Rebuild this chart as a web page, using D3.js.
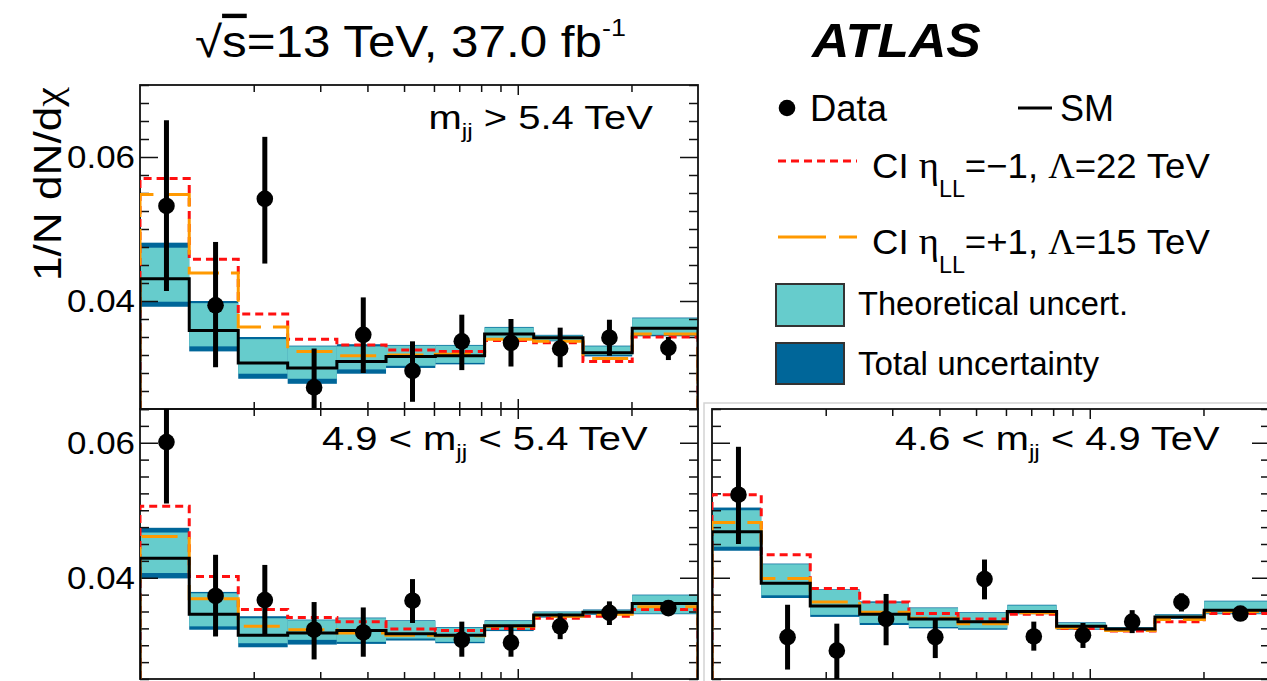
<!DOCTYPE html>
<html><head><meta charset="utf-8">
<script src="https://cdn.jsdelivr.net/npm/d3@7"></script>
<style>
html,body{margin:0;padding:0;background:#fff;}
svg{display:block;}
text{font-family:"Liberation Sans",Arial,Helvetica,sans-serif;fill:#000;}
</style></head><body>
<svg id="c" width="1267" height="681"></svg>
<script>
// ---------------- DATA ----------------
const chiEdges = [1, 1.35, 1.82, 2.46, 3.32, 4.48, 6.05, 8.17, 11.02, 14.88, 20.09, 30];
const xTickValues = [2, 3, 4, 5, 6, 7, 8, 9, 20];
const xMajorTickValues = [10];
const yTickValues = [0.04, 0.06];
const yTickLabels = ["0.04", "0.06"];

// m_jj > 5.4 TeV
const smHigh      = [0.0431, 0.0359, 0.0314, 0.0307, 0.0316, 0.0323, 0.0324, 0.0354, 0.0349, 0.0328, 0.0362];
const thUpHigh    = [0.0474, 0.0397, 0.0347, 0.0337, 0.0337, 0.0338, 0.0338, 0.0363, 0.0352, 0.0337, 0.0376];
const thDnHigh    = [0.0399, 0.0337, 0.0299, 0.0292, 0.0305, 0.0310, 0.0314, 0.0348, 0.0345, 0.0325, 0.0353];
const totUpHigh   = [0.0481, 0.0400, 0.0350, 0.0338, 0.0340, 0.0339, 0.0339, 0.0364, 0.0353, 0.0338, 0.0377];
const totDnHigh   = [0.0392, 0.0330, 0.0292, 0.0285, 0.0299, 0.0307, 0.0312, 0.0346, 0.0344, 0.0323, 0.0351];
const ciMinusHigh = [0.0570, 0.0458, 0.0382, 0.0347, 0.0339, 0.0332, 0.0330, 0.0345, 0.0342, 0.0316, 0.0350];
const ciPlusHigh  = [0.0548, 0.0439, 0.0364, 0.0330, 0.0324, 0.0325, 0.0326, 0.0347, 0.0344, 0.0320, 0.0354];
const dataHigh    = [0.0532, 0.0394, 0.0542, 0.0280, 0.0353, 0.0303, 0.0344, 0.0342, 0.0334, 0.0349, 0.0335];
const dataHiHigh  = [0.0651, 0.0482, 0.0628, 0.0334, 0.0405, 0.0344, 0.0381, 0.0375, 0.0363, 0.0374, 0.0350];
const dataLoHigh  = [0.0414, 0.0308, 0.0452, 0.0226, 0.0300, 0.0260, 0.0304, 0.0309, 0.0308, 0.0324, 0.0318];

// 4.9 < m_jj < 5.4 TeV
const smMid       = [0.0429, 0.0346, 0.0315, 0.0318, 0.0322, 0.0317, 0.0315, 0.0329, 0.0345, 0.0349, 0.0362];
const thUpMid     = [0.0467, 0.0377, 0.0340, 0.0337, 0.0340, 0.0336, 0.0326, 0.0336, 0.0349, 0.0352, 0.0374];
const thDnMid     = [0.0407, 0.0328, 0.0303, 0.0308, 0.0305, 0.0310, 0.0305, 0.0323, 0.0342, 0.0346, 0.0347];
const totUpMid    = [0.0474, 0.0379, 0.0343, 0.0338, 0.0341, 0.0337, 0.0327, 0.0337, 0.0350, 0.0353, 0.0375];
const totDnMid    = [0.0399, 0.0323, 0.0297, 0.0301, 0.0302, 0.0307, 0.0303, 0.0321, 0.0341, 0.0345, 0.0346];
const ciMinusMid  = [0.0506, 0.0402, 0.0353, 0.0341, 0.0335, 0.0324, 0.0322, 0.0325, 0.0340, 0.0343, 0.0353];
const ciPlusMid   = [0.0461, 0.0369, 0.0328, 0.0323, 0.0318, 0.0315, 0.0314, 0.0328, 0.0343, 0.0346, 0.0357];
const dataMid     = [0.0601, 0.0373, 0.0367, 0.0323, 0.0319, 0.0366, 0.0308, 0.0304, 0.0328, 0.0348, 0.0355];
const dataHiMid   = [0.0690, 0.0434, 0.0419, 0.0364, 0.0356, 0.0398, 0.0335, 0.0329, 0.0347, 0.0365, 0.0362];
const dataLoMid   = [0.0510, 0.0313, 0.0315, 0.0279, 0.0283, 0.0333, 0.0283, 0.0283, 0.0309, 0.0330, 0.0349];

// 4.6 < m_jj < 4.9 TeV
const smLow       = [0.0468, 0.0392, 0.0358, 0.0346, 0.0339, 0.0335, 0.0350, 0.0328, 0.0324, 0.0342, 0.0352];
const thUpLow     = [0.0500, 0.0420, 0.0382, 0.0363, 0.0355, 0.0348, 0.0359, 0.0333, 0.0326, 0.0345, 0.0365];
const thDnLow     = [0.0446, 0.0374, 0.0345, 0.0333, 0.0327, 0.0325, 0.0347, 0.0324, 0.0322, 0.0340, 0.0347];
const totUpLow    = [0.0504, 0.0421, 0.0383, 0.0365, 0.0356, 0.0349, 0.0360, 0.0334, 0.0327, 0.0346, 0.0366];
const totDnLow    = [0.0440, 0.0370, 0.0342, 0.0330, 0.0325, 0.0323, 0.0346, 0.0323, 0.0321, 0.0339, 0.0346];
const ciMinusLow  = [0.0523, 0.0434, 0.0384, 0.0364, 0.0347, 0.0339, 0.0346, 0.0325, 0.0321, 0.0335, 0.0347];
const ciPlusLow   = [0.0482, 0.0399, 0.0364, 0.0349, 0.0340, 0.0332, 0.0348, 0.0326, 0.0322, 0.0338, 0.0350];
const dataLow     = [0.0523, 0.0312, 0.0292, 0.0339, 0.0312, 0.0398, 0.0313, 0.0315, 0.0335, 0.0364, 0.0347];
const dataHiLow   = [0.0594, 0.0360, 0.0332, 0.0376, 0.0340, 0.0427, 0.0335, 0.0333, 0.0352, 0.0377, 0.0355];
const dataLoLow   = [0.0450, 0.0264, 0.0245, 0.0300, 0.0281, 0.0368, 0.0292, 0.0296, 0.0318, 0.0350, 0.0340];

// ---------------- STYLE / LAYOUT ----------------
const C_TH = "#66cccc", C_TOT = "#006699", C_RED = "#ff1010", C_ORA = "#ff9900";
const PW = 558;
const svg = d3.select("#c");
const SERIF = '"Liberation Serif","DejaVu Serif",serif';

function addText(parent, o) {
  const t = parent.append("text")
    .attr("text-anchor", o.anchor || "start")
    .style("font-size", o.size + "px")
    .style("font-weight", o.weight || "normal")
    .style("font-style", o.italic ? "italic" : "normal");
  o.parts.forEach(p => {
    const ts = t.append("tspan").text(p.t);
    if (p.size) ts.style("font-size", p.size + "px");
    if (p.dy) ts.attr("dy", p.dy);
    if (p.deco) ts.style("text-decoration", p.deco);
    if (p.family) ts.style("font-family", p.family);
  });
  let sx = 1;
  if (o.width) {
    const w = t.node().getBBox().width;
    if (w > 0) sx = o.width / w;
  }
  const rot = o.rotate ? ` rotate(${o.rotate})` : "";
  t.attr("transform", `translate(${o.x},${o.y})${rot} scale(${sx},1)`);
  return t;
}

const panels = [
  { x0: 140, y0: 85, y1: 409, ydom: [0.025, 0.07], yLabels: true,
    sm: smHigh, thUp: thUpHigh, thDn: thDnHigh, totUp: totUpHigh, totDn: totDnHigh,
    ciM: ciMinusHigh, ciP: ciPlusHigh, d: dataHigh, dHi: dataHiHigh, dLo: dataLoHigh,
    label: { anchor: "end", x: 653, y: 128.5, width: 225,
      parts: [{ t: "m" }, { t: "jj", size: 21, dy: 9 }, { t: " > 5.4 TeV", dy: -9 }] } },
  { x0: 140, y0: 409, y1: 679, ydom: [0.025, 0.065], yLabels: true,
    sm: smMid, thUp: thUpMid, thDn: thDnMid, totUp: totUpMid, totDn: totDnMid,
    ciM: ciMinusMid, ciP: ciPlusMid, d: dataMid, dHi: dataHiMid, dLo: dataLoMid,
    label: { anchor: "start", x: 322, y: 450, width: 326,
      parts: [{ t: "4.9 < m" }, { t: "jj", size: 21, dy: 9 }, { t: " < 5.4 TeV", dy: -9 }] } },
  { x0: 712, y0: 409, y1: 679, ydom: [0.025, 0.065], yLabels: false,
    sm: smLow, thUp: thUpLow, thDn: thDnLow, totUp: totUpLow, totDn: totDnLow,
    ciM: ciMinusLow, ciP: ciPlusLow, d: dataLow, dHi: dataHiLow, dLo: dataLoLow,
    label: { anchor: "start", x: 895, y: 450, width: 325,
      parts: [{ t: "4.6 < m" }, { t: "jj", size: 21, dy: 9 }, { t: " < 4.9 TeV", dy: -9 }] } }
];

// light pad border around the lower-right pad
svg.append("path").attr("d", "M704,681 V403 H1267").attr("fill", "none")
  .attr("stroke", "#d4d4d4").attr("stroke-width", 1.5);

panels.forEach((p, pi) => {
  const x = d3.scaleLog().domain([1, 30]).range([p.x0, p.x0 + PW]);
  const y = d3.scaleLinear().domain(p.ydom).range([p.y1, p.y0]);
  const n = p.sm.length;
  const bins = d3.range(n).map(i => ({ lo: chiEdges[i], hi: chiEdges[i + 1], i }));

  const clipId = "clip" + pi;
  svg.append("clipPath").attr("id", clipId).append("rect")
    .attr("x", p.x0).attr("y", p.y0).attr("width", PW).attr("height", p.y1 - p.y0);
  const g = svg.append("g").attr("clip-path", `url(#${clipId})`);

  g.selectAll("rect.tot").data(bins).join("rect").attr("class", "tot")
    .attr("x", b => x(b.lo)).attr("width", b => x(b.hi) - x(b.lo))
    .attr("y", b => y(p.totUp[b.i])).attr("height", b => y(p.totDn[b.i]) - y(p.totUp[b.i]))
    .attr("fill", C_TOT);
  g.selectAll("rect.th").data(bins).join("rect").attr("class", "th")
    .attr("x", b => x(b.lo)).attr("width", b => x(b.hi) - x(b.lo))
    .attr("y", b => y(p.thUp[b.i])).attr("height", b => y(p.thDn[b.i]) - y(p.thUp[b.i]))
    .attr("fill", C_TH);

  const fr = svg.append("g");
  fr.append("rect").attr("x", p.x0).attr("y", p.y0).attr("width", PW).attr("height", p.y1 - p.y0)
    .attr("fill", "none").attr("stroke", "#111").attr("stroke-width", 1.8);
  const minorY = d3.range(p.ydom[0], p.ydom[1] + 1e-9, 0.0025).filter(v => !yTickValues.some(t => Math.abs(t - v) < 1e-6));
  const axes = [
    [d3.axisLeft(y).tickValues(minorY).tickSize(-9), `translate(${p.x0},0)`],
    [d3.axisLeft(y).tickValues(yTickValues).tickSize(-18), `translate(${p.x0},0)`],
    [d3.axisRight(y).tickValues(minorY).tickSize(-9), `translate(${p.x0 + PW},0)`],
    [d3.axisRight(y).tickValues(yTickValues).tickSize(-18), `translate(${p.x0 + PW},0)`],
    [d3.axisBottom(x).tickValues(xTickValues).tickSize(-7), `translate(0,${p.y1})`],
    [d3.axisBottom(x).tickValues(xMajorTickValues).tickSize(-10), `translate(0,${p.y1})`],
    [d3.axisTop(x).tickValues(xTickValues).tickSize(-7), `translate(0,${p.y0})`],
    [d3.axisTop(x).tickValues(xMajorTickValues).tickSize(-10), `translate(0,${p.y0})`]
  ];
  axes.forEach(([ax, tr]) => {
    fr.append("g").attr("transform", tr).call(ax.tickFormat(""))
      .call(a => a.select(".domain").remove())
      .call(a => a.selectAll(".tick line").attr("stroke", "#111").attr("stroke-width", 1.5));
  });

  if (p.yLabels) {
    yTickValues.forEach((v, k) => {
      addText(svg, { anchor: "end", x: 135, y: y(v) + 11, size: 31, width: 68, parts: [{ t: yTickLabels[k] }] });
    });
  }

  const stepPts = vals => [[chiEdges[0], p.ydom[0]]]
    .concat(chiEdges.map((e, i) => [e, vals[Math.min(i, n - 1)]]))
    .concat([[chiEdges[n], p.ydom[0]]]);
  const line = d3.line().x(d => x(d[0])).y(d => y(d[1])).curve(d3.curveStepAfter);
  const gl = svg.append("g").attr("clip-path", `url(#${clipId})`);
  gl.append("path").attr("d", line(stepPts(p.ciM))).attr("fill", "none")
    .attr("stroke", C_RED).attr("stroke-width", 3).attr("stroke-dasharray", "8,5");
  gl.append("path").attr("d", line(stepPts(p.ciP))).attr("fill", "none")
    .attr("stroke", C_ORA).attr("stroke-width", 3).attr("stroke-dasharray", "36,12");
  gl.append("path").attr("d", line(stepPts(p.sm))).attr("fill", "none")
    .attr("stroke", "#000").attr("stroke-width", 3);

  const cx = b => x((b.lo + b.hi) / 2);
  gl.selectAll("line.err").data(bins).join("line").attr("class", "err")
    .attr("x1", cx).attr("x2", cx)
    .attr("y1", b => y(p.dHi[b.i])).attr("y2", b => y(p.dLo[b.i]))
    .attr("stroke", "#000").attr("stroke-width", 5);
  gl.selectAll("circle.pt").data(bins).join("circle").attr("class", "pt")
    .attr("cx", cx).attr("cy", b => y(p.d[b.i])).attr("r", 8.3).attr("fill", "#000");

  addText(svg, Object.assign({ size: 34 }, p.label));
});

// y axis title
addText(svg, { anchor: "start", x: 61, y: 281, rotate: -90, size: 38, width: 194,
  parts: [{ t: "1/N dN/d" }, { t: "χ", family: SERIF }] });

// header
addText(svg, { anchor: "start", x: 195, y: 57, size: 44, width: 431,
  parts: [{ t: "√" }, { t: "s", deco: "overline" }, { t: "=13 TeV, 37.0 fb" }, { t: "-1", size: 24, dy: -21 }] });
addText(svg, { anchor: "start", x: 812, y: 57, size: 48, weight: "bold", italic: true, width: 170,
  parts: [{ t: "ATLAS" }] });

// legend
const lg = svg.append("g");
lg.append("circle").attr("cx", 787).attr("cy", 108).attr("r", 8.3).attr("fill", "#000");
addText(lg, { x: 810, y: 121, size: 36, width: 78, parts: [{ t: "Data" }] });
lg.append("line").attr("x1", 1018).attr("x2", 1052).attr("y1", 108).attr("y2", 108)
  .attr("stroke", "#000").attr("stroke-width", 3);
addText(lg, { x: 1060, y: 121, size: 36, width: 54, parts: [{ t: "SM" }] });

lg.append("line").attr("x1", 778).attr("x2", 857).attr("y1", 161).attr("y2", 161)
  .attr("stroke", C_RED).attr("stroke-width", 3).attr("stroke-dasharray", "8,5");
addText(lg, { x: 872, y: 177.5, size: 36, width: 338,
  parts: [{ t: "CI " }, { t: "η", family: SERIF, size: 38 }, { t: "LL", size: 23, dy: 19 }, { t: "=−1, ", dy: -19 }, { t: "Λ", family: SERIF }, { t: "=22 TeV" }] });

lg.append("line").attr("x1", 778).attr("x2", 857).attr("y1", 237).attr("y2", 237)
  .attr("stroke", C_ORA).attr("stroke-width", 3).attr("stroke-dasharray", "48,13");
addText(lg, { x: 872, y: 253.5, size: 36, width: 338,
  parts: [{ t: "CI " }, { t: "η", family: SERIF, size: 38 }, { t: "LL", size: 23, dy: 19 }, { t: "=+1, ", dy: -19 }, { t: "Λ", family: SERIF }, { t: "=15 TeV" }] });

lg.append("rect").attr("x", 776).attr("y", 284).attr("width", 68).attr("height", 42)
  .attr("fill", C_TH).attr("stroke", "#333").attr("stroke-width", 2);
addText(lg, { x: 858, y: 315, size: 32.5, width: 270, parts: [{ t: "Theoretical uncert." }] });
lg.append("rect").attr("x", 776).attr("y", 343).attr("width", 68).attr("height", 41)
  .attr("fill", C_TOT).attr("stroke", "#333").attr("stroke-width", 2);
addText(lg, { x: 858, y: 375, size: 32.5, width: 242, parts: [{ t: "Total uncertainty" }] });
</script>
</body></html>
